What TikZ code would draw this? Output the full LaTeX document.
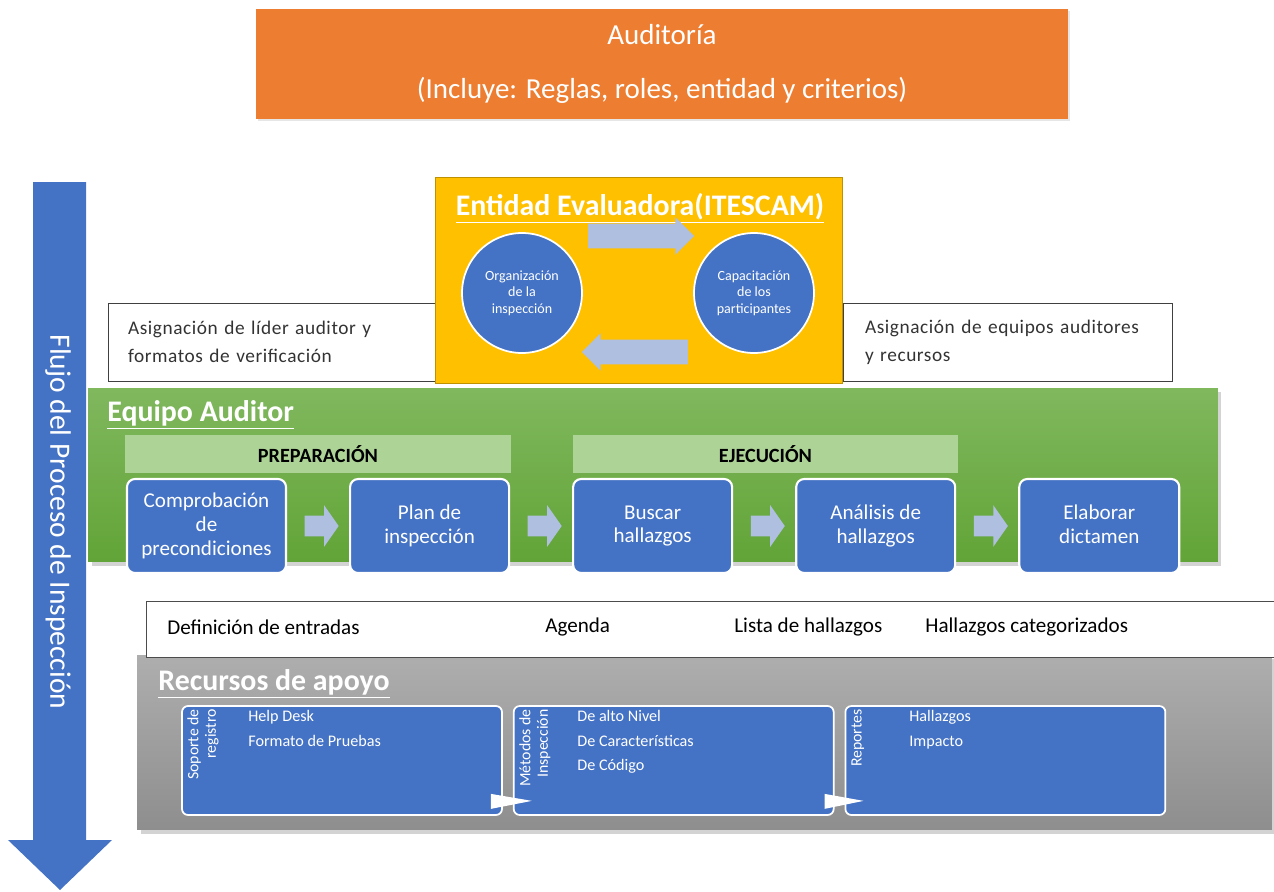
\documentclass[tikz,border=0pt]{standalone}
\usepackage{fontspec}
\setmainfont{Carlito}
\newfontfamily\spacedfont{Carlito}[LetterSpace=3]
\usetikzlibrary{positioning,calc,shapes.arrows,shadows}

\definecolor{auditorange}{HTML}{ED7D31}
\definecolor{evalyellow}{HTML}{FFC000}
\definecolor{procblue}{HTML}{4472C4}
\definecolor{paleblue}{HTML}{AFBFE0}
\definecolor{bandgreen}{HTML}{ADD496}
\definecolor{teamtop}{HTML}{80B85E}
\definecolor{teambot}{HTML}{62A437}
\definecolor{greytop}{HTML}{AEAEAE}
\definecolor{greybot}{HTML}{8E8E8E}

\tikzset{
  % blue process steps and resource boxes
  stepbox/.style={fill=procblue, draw=white, line width=1.2pt, rounded corners=0.16cm,
    minimum width=3.18cm, minimum height=1.88cm, text=white, align=center,
    font=\fontsize{12}{13.5}\selectfont},
  resbox/.style={fill=procblue, draw=white, line width=1pt, rounded corners=0.12cm,
    minimum width=6.4cm, minimum height=2.18cm},
  sidebox/.style={fill=white, draw=black!75, minimum height=1.56cm, inner xsep=0.4cm,
    align=left, text=black!80, font=\spacedfont\fontsize{11}{16}\selectfont},
  panel/.style={minimum height=3.48cm,
    drop shadow={opacity=0.35, shadow xshift=2pt, shadow yshift=-2pt}},
  paneltitle/.style={anchor=west, text=white, inner sep=0pt,
    font=\fontsize{17}{19}\bfseries\selectfont},
  band/.style={fill=bandgreen, minimum width=7.72cm, minimum height=0.76cm,
    font=\fontsize{11.5}{13}\bfseries\selectfont},
  chevron/.style={single arrow, fill=paleblue, inner xsep=0pt, inner ysep=0.2cm,
    minimum height=0.68cm, single arrow head extend=0.21cm, single arrow tip angle=110},
}

\begin{document}
\begin{tikzpicture}
  [
  x=0.02cm, y=-0.02cm,
  every node/.style={font=\fontsize{12}{14}\selectfont},
  circ/.style={circle, fill=procblue, draw=white, line width=1pt, minimum size=2.4cm,
    text=white, align=center, font=\fontsize{8}{9.5}\selectfont},
  loop/.style={single arrow, fill=paleblue, inner xsep=0pt, inner ysep=0.24cm,
    minimum height=2.12cm, single arrow head extend=0.13cm},
  itemtext/.style={anchor=north west, text=white, align=left, inner sep=0pt,
    font=\fontsize{9.2}{14}\selectfont},
  sidelabel/.style={rotate=90, anchor=north east, text=white, align=right, inner sep=0pt,
    font=\fontsize{9}{10}\selectfont},
  ]
  \useasboundingbox (0,0) rectangle (1274,892);

  % audit header
  \node[fill=auditorange, minimum width=16.24cm, minimum height=2.2cm, text=white,
    align=center, font=\fontsize{16.5}{19.5}\selectfont,
    drop shadow={opacity=0.2, shadow xshift=1pt, shadow yshift=-1pt}] (auditoria) at (662,64)
    {Auditoría\\[11pt](Incluye: Reglas, roles, entidad y criterios)};

  % assignments on both sides of the evaluator
  \node[sidebox, minimum width=6.56cm, text width=5.76cm] (lider) at (272,342)
    {Asignación de líder auditor y\\formatos de verificación};
  \node[sidebox, minimum width=6.58cm, text width=5.7cm, inner xsep=0.44cm] (equipos) at (1007.5,342)
    {Asignación de equipos auditores\\y recursos};

  % evaluating entity
  \node[fill=evalyellow, draw=evalyellow!75!black, minimum width=8.14cm,
    minimum height=4.12cm] (entidad) at (638.5,280) {};
  \node[paneltitle, anchor=center] (entidadtit) at (640,208) {\underline{Entidad Evaluadora(ITESCAM)}};
  \node[circ] (org) at (522,293) {Organización\\de la\\inspección};
  \node[circ] (cap) at (754,293) {Capacitación\\de los\\participantes};
  \node[loop] (ida) at ($($(org)!0.5!(cap)$)+(-3,-57)$) {};
  \node[loop, shape border rotate=180] (vuelta) at ($($(org)!0.5!(cap)$)+(3,59)$) {};

  % audit team
  \node[panel, minimum width=22.6cm, top color=teamtop, bottom color=teambot] (equipo) at (653,475) {};
  \node[paneltitle] (equipotit) at (107,415) {\underline{Equipo Auditor}};
  \node[band] (prep) at (318,454) {PREPARACIÓN};
  \node[band] (ejec) at (765.5,454) {EJECUCIÓN};

  \node[stepbox] (s1) at (206.5,526) {Comprobación\\de\\precondiciones};
  \node[stepbox, right=1.24cm of s1] (s2) {Plan de\\inspección};
  \node[stepbox, right=1.24cm of s2] (s3) {Buscar\\hallazgos};
  \node[stepbox, right=1.24cm of s3] (s4) {Análisis de\\hallazgos};
  \node[stepbox, right=1.24cm of s4, minimum width=3.2cm] (s5) {Elaborar\\dictamen\vphantom{p}};
  \foreach \a/\b in {s1/s2,s2/s3,s3/s4,s4/s5}
    \node[chevron] at ($(\a.east)!0.5!(\b.west)$) {};

  % support resources
  \node[panel, minimum width=22.7cm, minimum height=3.5cm, top color=greytop,
    bottom color=greybot] (recursos) at (704.5,742.5) {};

  % outputs strip
  \node[fill=white, draw=black!70, minimum width=22.68cm, minimum height=1.12cm] (salidas) at (713,629) {};
  \node[anchor=west, inner sep=0pt] (entradas) at (167,627) {Definición de entradas};
  \node[anchor=west, inner sep=0pt] (agenda) at (545,627) {Agenda};
  \node[anchor=west, inner sep=0pt] (lista) at (734,627) {Lista de hallazgos};
  \node[anchor=west, inner sep=0pt] (categ) at (925,627) {Hallazgos categorizados};

  \node[paneltitle] (recursostit) at (158,684) {\underline{Recursos de apoyo}};
  \node[resbox] (r1) at (342,760.5) {};
  \node[resbox, right=0.2cm of r1] (r2) {};
  \node[resbox, right=0.2cm of r2] (r3) {};

  \node[sidelabel] (soporte) at (187,709) {Soporte de\\registro};
  \node[sidelabel] (metodos) at (519,709) {Métodos de\\Inspección};
  \node[sidelabel] (reportes) at (851,709) {Reportes};
  \node[itemtext] (soporteitems) at (248,710) {Help Desk\\Formato de Pruebas};
  \node[itemtext] (metodositems) at (577,710) {De alto Nivel\\De Características\\De Código};
  \node[itemtext] (reportesitems) at (909,710) {Hallazgos\\Impacto};

  % small white pointers linking the resource boxes
  \fill[white] ($(r1.south east)+(-12,-22)$) -- ($(r1.south east)+(29,-15)$) -- ($(r1.south east)+(-12,-7)$) -- cycle;
  \fill[white] ($(r2.south east)+(-10,-22)$) -- ($(r2.south east)+(29,-15)$) -- ($(r2.south east)+(-10,-7)$) -- cycle;

  % process flow
  \fill[procblue] (33,182) -- (86,182) -- (86,840) -- (112,840) -- (60,890) -- (8,840) -- (33,840) -- cycle;
  \node[rotate=-90, text=white, font=\fontsize{16.8}{19}\selectfont] (flujo) at (58,522)
    {Flujo del Proceso de Inspección};
\end{tikzpicture}
\end{document}
